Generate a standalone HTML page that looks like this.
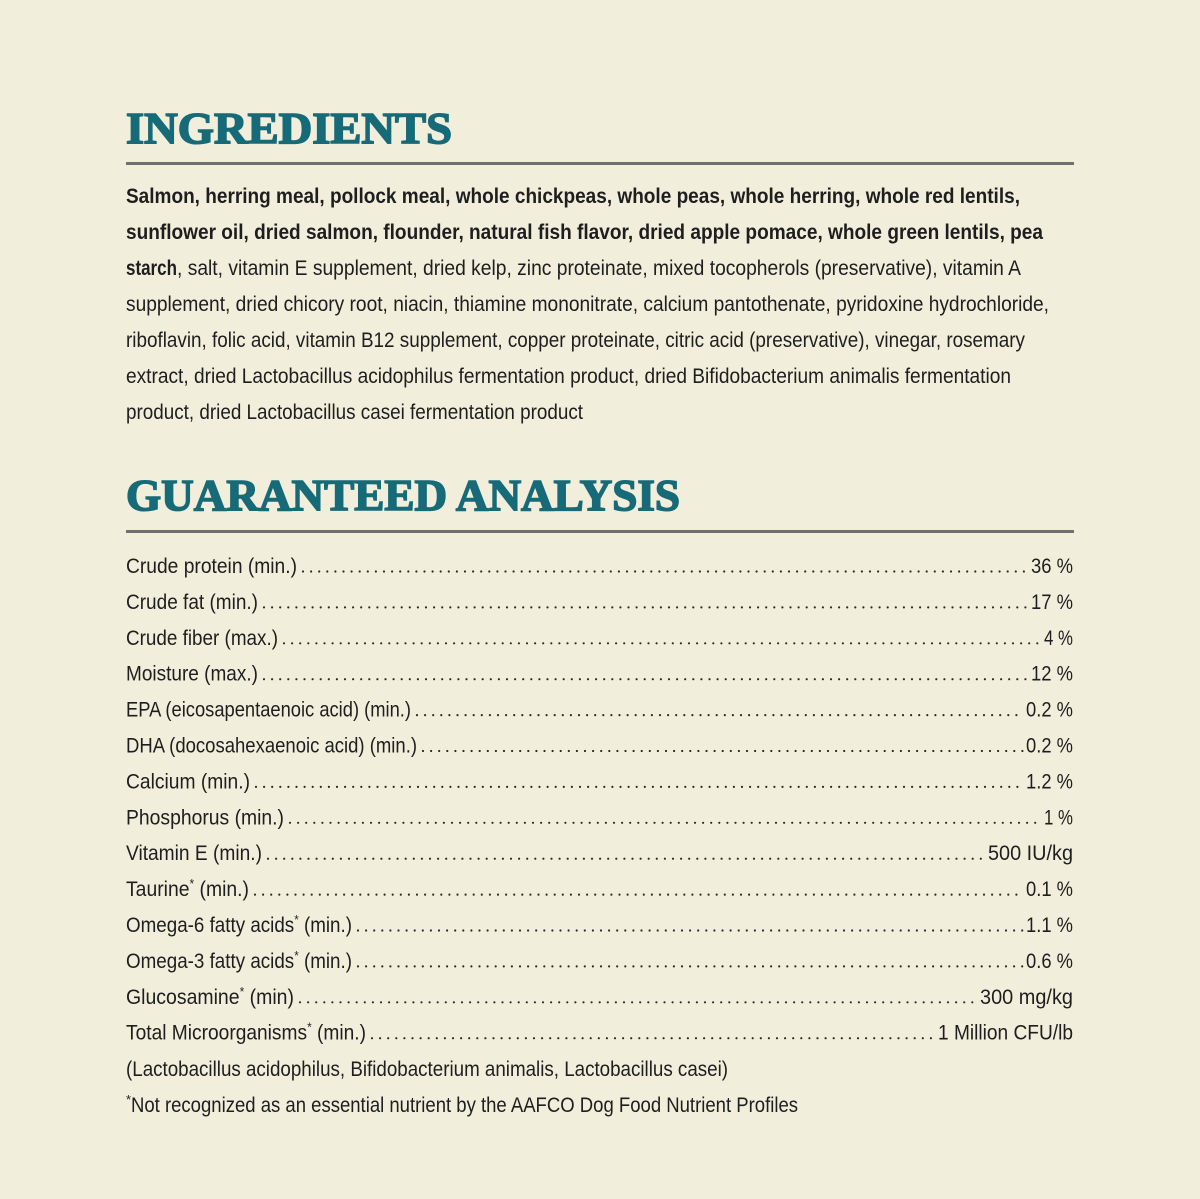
<!DOCTYPE html>
<html><head><meta charset="utf-8"><style>
html,body{margin:0;padding:0;background:#f2eedc;}
svg{display:block}
.h{font-family:"Liberation Serif",serif;font-weight:bold;fill:#176a77;stroke:#176a77;stroke-width:1.6px;font-size:44px}
.b{font-family:"Liberation Sans Narrow","Liberation Sans",sans-serif;font-size:21px;fill:#1e1e1e}
.bb{font-weight:bold}
</style></head><body>
<svg width="1200" height="1199" viewBox="0 0 1200 1199" xmlns="http://www.w3.org/2000/svg">
<rect width="1200" height="1199" fill="#f2eedc"/>
<text class="h" x="126" y="143" textLength="326" lengthAdjust="spacingAndGlyphs">INGREDIENTS</text>
<rect x="126" y="162" width="948" height="3" fill="#6f706d"/>
<g class="b">
<text class="bb" x="126" y="203" textLength="894" lengthAdjust="spacingAndGlyphs">Salmon, herring meal, pollock meal, whole chickpeas, whole peas, whole herring, whole red lentils,</text>
<text class="bb" x="126" y="239" textLength="917" lengthAdjust="spacingAndGlyphs">sunflower oil, dried salmon, flounder, natural fish flavor, dried apple pomace, whole green lentils, pea</text>
<text class="bb" x="126" y="275" textLength="51" lengthAdjust="spacingAndGlyphs">starch</text>
<text x="177" y="275" textLength="844" lengthAdjust="spacingAndGlyphs">, salt, vitamin E supplement, dried kelp, zinc proteinate, mixed tocopherols (preservative), vitamin A</text>
<text x="126" y="311" textLength="923" lengthAdjust="spacingAndGlyphs">supplement, dried chicory root, niacin, thiamine mononitrate, calcium pantothenate, pyridoxine hydrochloride,</text>
<text x="126" y="347" textLength="899" lengthAdjust="spacingAndGlyphs">riboflavin, folic acid, vitamin B12 supplement, copper proteinate, citric acid (preservative), vinegar, rosemary</text>
<text x="126" y="383" textLength="885" lengthAdjust="spacingAndGlyphs">extract, dried Lactobacillus acidophilus fermentation product, dried Bifidobacterium animalis fermentation</text>
<text x="126" y="419" textLength="457" lengthAdjust="spacingAndGlyphs">product, dried Lactobacillus casei fermentation product</text>
</g>
<text class="h" x="126" y="510" textLength="554" lengthAdjust="spacingAndGlyphs">GUARANTEED ANALYSIS</text>
<rect x="126" y="530" width="948" height="3" fill="#6f706d"/>
<g class="b" id="rows"></g>
<g class="b">
<text x="126" y="1076" textLength="602" lengthAdjust="spacingAndGlyphs">(Lactobacillus acidophilus, Bifidobacterium animalis, Lactobacillus casei)</text>
<text x="126" y="1104" font-size="13">*</text>
<text x="131" y="1112" textLength="667" lengthAdjust="spacingAndGlyphs">Not recognized as an essential nutrient by the AAFCO Dog Food Nutrient Profiles</text>
</g>
</svg>
<script>
var rows=[
["Crude protein (min.)",297,"36 %",1031],
["Crude fat (min.)",258,"17 %",1031],
["Crude fiber (max.)",278,"4 %",1044],
["Moisture (max.)",258,"12 %",1031],
["EPA (eicosapentaenoic acid) (min.)",411,"0.2 %",1026],
["DHA (docosahexaenoic acid) (min.)",417,"0.2 %",1026],
["Calcium (min.)",250,"1.2 %",1026],
["Phosphorus (min.)",284,"1 %",1044],
["Vitamin E (min.)",262,"500 IU/kg",988],
["Taurine* (min.)",249,"0.1 %",1026],
["Omega-6 fatty acids* (min.)",352,"1.1 %",1026],
["Omega-3 fatty acids* (min.)",352,"0.6 %",1026],
["Glucosamine* (min)",294,"300 mg/kg",980],
["Total Microorganisms* (min.)",366,"1 Million CFU/lb",938]];
var g=document.getElementById('rows'),h="";
rows.forEach(function(r,i){
 var y=573+i*35.9;
 var lab=r[0].replace("*",'<tspan font-size="13" dy="-8">*</tspan><tspan dy="8">')+(r[0].indexOf("*")>=0?"</tspan>":"");
 h+='<text x="126" y="'+y+'" textLength="'+(r[1]-126)+'" lengthAdjust="spacingAndGlyphs">'+lab+'</text>';
 h+='<text x="1073" y="'+y+'" text-anchor="end" textLength="'+(1073-r[3])+'" lengthAdjust="spacingAndGlyphs">'+r[2]+'</text>';
 var x1=r[1]+6,x2=r[3]-3;
 h+='<line x1="'+x1+'" y1="'+(y-1.5)+'" x2="'+x2+'" y2="'+(y-1.5)+'" stroke="#2a2a2a" stroke-width="2.2" stroke-linecap="round" stroke-dasharray="0 8.1"/>';
});
g.innerHTML=h;
</script>
</body></html>
